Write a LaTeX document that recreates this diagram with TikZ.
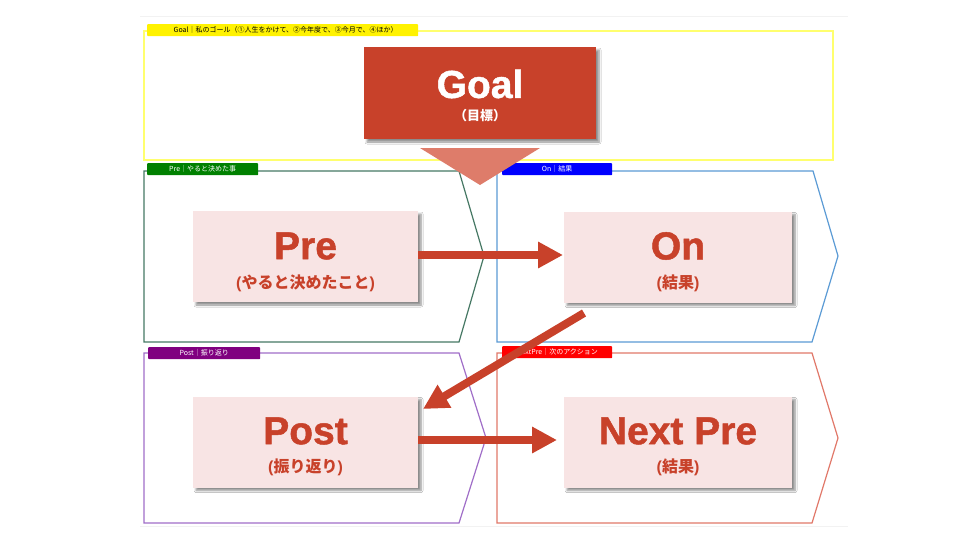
\documentclass[tikz,border=0pt]{standalone}
\usepackage{fontspec}
\setmainfont{Liberation Sans}
\newfontfamily\cjk{Noto Sans CJK JP}
\newfontfamily\heavy{Liberation Sans}[BoldFeatures={FakeBold=1.2}]
\newcommand\jp[1]{{\cjk #1}}
\usetikzlibrary{arrows.meta,shadows,shadows.blur}
\definecolor{goalred}{RGB}{200,65,42}
\definecolor{trisalmon}{RGB}{222,124,106}
\definecolor{boxpink}{RGB}{248,228,228}
\definecolor{frgoal}{RGB}{255,255,110}
\definecolor{frpre}{RGB}{70,120,100}
\definecolor{fron}{RGB}{91,155,213}
\definecolor{frpost}{RGB}{160,110,200}
\definecolor{frnext}{RGB}{225,120,105}
\definecolor{lbpre}{RGB}{0,128,0}
\definecolor{lbon}{RGB}{0,0,255}
\definecolor{lbpost}{RGB}{128,0,128}
\definecolor{lbnext}{RGB}{255,0,0}
\begin{document}
\begin{tikzpicture}[x=1pt,y=-1pt,
  frame/.style={line width=1.2pt},
  tag/.style={anchor=north west, inner sep=0pt, minimum height=12pt, font=\cjk\fontsize{7}{7}\selectfont, text=white, rounded corners=0.8pt},
  softshadow/.style={blur shadow={shadow xshift=3pt, shadow yshift=-3pt, shadow blur radius=2pt, shadow blur steps=6, shadow opacity=45}},
  stepbox/.style={fill=boxpink, draw=none, minimum width=225pt, minimum height=91pt, inner sep=0pt, softshadow},
  title/.style={font=\heavy\bfseries\fontsize{39}{39}\selectfont, text=goalred, inner sep=0pt},
  sub/.style={font=\bfseries\fontsize{16}{16}\selectfont, text=goalred, inner sep=0pt},
  bigarrow/.style={draw=goalred, line width=8pt, -{Triangle[length=25pt,width=25pt]}}
]
\useasboundingbox (0,0) rectangle (960,554);
\fill[white] (0,0) rectangle (960,554);
% faint slide edges
\draw[gray!10, line width=0.8pt] (140,16) -- (848,16);
\draw[gray!10, line width=0.8pt] (140,526) -- (848,526);

% frames
\draw[frame, draw=frgoal] (144,31) rectangle (833,160);
\draw[frame, draw=frpre] (144,171) -- (459,171) -- (484,256) -- (459,342) -- (144,342) -- cycle;
\draw[frame, draw=fron] (497,171) -- (813,171) -- (838,256) -- (812,342) -- (497,342) -- cycle;
\draw[frame, draw=frpost] (144,353) -- (459,353) -- (486,438) -- (459,523) -- (144,523) -- cycle;
\draw[frame, draw=frnext] (497,353) -- (812,353) -- (838,438) -- (812,523) -- (497,523) -- cycle;

% frame labels
\node[tag, fill=yellow, text=black, minimum width=271pt] (tgoal) at (147,24) {\hspace*{6pt}Goal｜私のゴール（①人生をかけて、②今年度で、③今月で、④ほか）\hfill};
\node[tag, fill=lbpre, minimum width=111pt] (tpre) at (147,163) {Pre｜やると決めた事};
\node[tag, fill=lbon, minimum width=110pt] (ton) at (502,163) {On｜結果};
\node[tag, fill=lbpost, minimum width=112pt] (tpost) at (148,347) {Post｜振り返り};
\node[tag, fill=lbnext, minimum width=110pt] (tnext) at (502,346) {NextPre｜次のアクション};

% goal box and triangle
\fill[trisalmon] (420,148) -- (540,148) -- (480,185) -- cycle;
\node[fill=goalred, minimum width=232pt, minimum height=92pt, inner sep=0pt, softshadow] (goal) at (480,93) {};
\node[title, text=white] (goalt) at (480,84) {Goal};
\node[sub, text=white, font=\cjk\bfseries\fontsize{13}{13}\selectfont] (goals) at (480,116) {（目標）};

% step boxes
\node[stepbox] (pre) at (305.5,256.5) {};
\node[title] (pret) at (305.5,246) {Pre};
\node[sub] (pres) at (305.5,283) {(\jp{やると決めたこと})};

\node[stepbox, minimum width=228pt] (on) at (678,257) {};
\node[title] (ont) at (678,246) {On};
\node[sub] (ons) at (678,283) {(\jp{結果})};

\node[stepbox] (post) at (305.5,442) {};
\node[title] (postt) at (305.5,431) {Post};
\node[sub] (posts) at (305.5,467) {(\jp{振り返り})};

\node[stepbox, minimum width=228pt] (next) at (678,442) {};
\node[title] (nextt) at (678,431) {Next Pre};
\node[sub] (nexts) at (678,467) {(\jp{結果})};

% arrows
\coordinate (a1s) at (418,255);
\coordinate (a1e) at (563,255);
\draw[bigarrow] (a1s) -- (a1e);
\coordinate (a2s) at (584,313);
\coordinate (a2e) at (423,409);
\draw[bigarrow] (a2s) -- (a2e);
\coordinate (a3s) at (418,440);
\coordinate (a3e) at (557,440);
\draw[bigarrow] (a3s) -- (a3e);
\end{tikzpicture}
\end{document}
